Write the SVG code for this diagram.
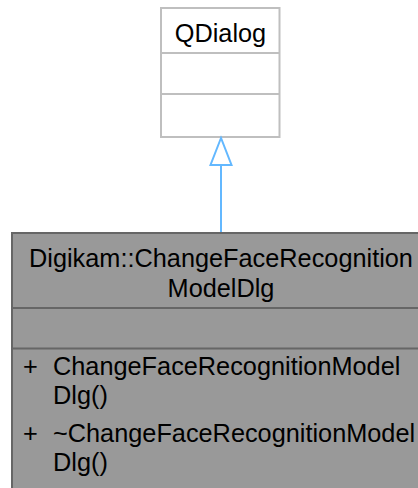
<svg xmlns="http://www.w3.org/2000/svg" width="418" height="488" viewBox="0 0 418 488">
<style>
text{font-family:"Liberation Sans",Arial,Helvetica,sans-serif;font-size:25.3px;fill:#000}
.mid{text-anchor:middle}
.base{fill:#ffffff;stroke:#bfbfbf;stroke-width:2}
.sel{fill:#999999;stroke:#666666;stroke-width:2}
.divb{stroke:#bfbfbf;stroke-width:2}
.divs{stroke:#666666;stroke-width:2}
.edge{stroke:#63b8ff;stroke-width:2;fill:none}
</style>
<rect width="418" height="488" fill="#ffffff"/>
<g id="node-qdialog">
<rect class="base" x="161" y="8" width="118.5" height="129"/>
<line class="divb" x1="161" y1="53" x2="279.5" y2="53"/>
<line class="divb" x1="161" y1="94" x2="279.5" y2="94"/>
<text class="mid" x="220.5" y="41.5">QDialog</text>
</g>
<g id="node-changefacerecognitionmodeldlg">
<rect class="sel" x="12" y="233" width="420" height="270"/>
<line class="divs" x1="12" y1="308" x2="432" y2="308"/>
<line class="divs" x1="12" y1="348.5" x2="432" y2="348.5"/>
<text class="mid" x="221" y="267">Digikam::ChangeFaceRecognition</text>
<text class="mid" x="221" y="297">ModelDlg</text>
<text x="23" y="375">+</text>
<text x="53" y="375">ChangeFaceRecognitionModel</text>
<text x="53" y="404">Dlg()</text>
<text x="23" y="442">+</text>
<text x="53" y="442">~ChangeFaceRecognitionModel</text>
<text x="53" y="471">Dlg()</text>
</g>
<g id="connectors">
<line class="edge" x1="221" y1="165" x2="221" y2="232"/>
<polygon class="edge" points="221,138 210.5,165 231.5,165"/>
</g>
</svg>
